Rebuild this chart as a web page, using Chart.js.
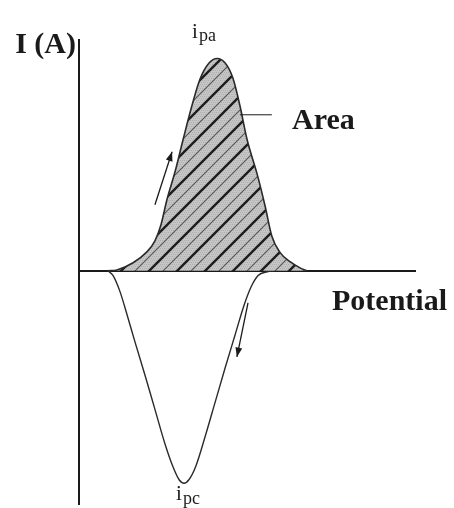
<!doctype html>
<html>
<head>
    <title>Cyclic voltammogram</title>
    <script src="https://cdn.jsdelivr.net/npm/chart.js@4.4.1/dist/chart.umd.min.js"></script>
    <style>
        html, body { margin: 0; padding: 0; background: #fff; }
        #wrap { position: relative; width: 454px; height: 508px; }
    </style>
</head>
<body>
    <div id="wrap">
        <canvas id="canvas"></canvas>
    </div>
    <script>
        // anodic sweep (oxidation peak, shaded area)
        var potentialAnodic = [0.86, 1.13, 1.61, 2.02, 2.26, 2.44, 2.62, 2.86, 3.10, 3.36, 3.60, 3.87, 4.11, 4.35, 4.58, 4.79, 5.00, 5.30, 5.54, 5.74, 5.98, 6.28, 6.58, 6.79];
        var currentAnodic = [0, 0.004, 0.035, 0.082, 0.13, 0.20, 0.31, 0.43, 0.57, 0.715, 0.83, 0.90, 0.92, 0.90, 0.835, 0.715, 0.57, 0.42, 0.28, 0.15, 0.08, 0.04, 0.013, 0];
        // cathodic sweep (reduction peak)
        var potentialCathodic = [0.86, 1.01, 1.22, 1.43, 1.67, 1.96, 2.26, 2.56, 2.80, 2.98, 3.13, 3.27, 3.48, 3.75, 4.05, 4.35, 4.64, 4.91, 5.12, 5.33, 5.60, 5.83];
        var currentCathodic = [0, -0.02, -0.09, -0.19, -0.31, -0.45, -0.60, -0.75, -0.85, -0.905, -0.92, -0.905, -0.845, -0.72, -0.57, -0.42, -0.28, -0.15, -0.07, -0.02, -0.004, 0];
        var axisLabels = ['I (A)', 'Potential'];

        function toPoints(xs, ys) {
            var pts = [];
            for (var i = 0; i < xs.length; i++) {
                pts.push({ x: xs[i], y: ys[i] });
            }
            return pts;
        }

        // grey fill with diagonal hatch lines
        function makeHatch() {
            var c = document.createElement('canvas');
            c.width = 28; c.height = 28;
            var g = c.getContext('2d');
            g.fillStyle = '#c6c6c6';
            g.fillRect(0, 0, 28, 28);
            g.fillStyle = 'rgba(90,90,90,0.22)';
            for (var y = 0; y < 28; y += 2) {
                for (var x = (y % 4 == 0 ? 0 : 1); x < 28; x += 2) {
                    g.fillRect(x, y, 1, 1);
                }
            }
            g.strokeStyle = '#1e1e1e';
            g.lineWidth = 2.4;
            g.beginPath();
            g.moveTo(-2, 30); g.lineTo(30, -2);
            g.moveTo(-16, 16); g.lineTo(16, -16);
            g.moveTo(12, 44); g.lineTo(44, 12);
            g.stroke();
            g.strokeStyle = '#555';
            g.lineWidth = 1.1;
            g.beginPath();
            g.moveTo(-2, 16); g.lineTo(16, -2);
            g.moveTo(12, 30); g.lineTo(30, 12);
            g.stroke();
            return g.createPattern(c, 'repeat');
        }

        function arrow(ctx, x1, y1, x2, y2) {
            var a = Math.atan2(y2 - y1, x2 - x1);
            ctx.beginPath();
            ctx.moveTo(x1, y1);
            ctx.lineTo(x2, y2);
            ctx.stroke();
            ctx.beginPath();
            ctx.moveTo(x2, y2);
            ctx.lineTo(x2 - 10 * Math.cos(a - 0.35), y2 - 10 * Math.sin(a - 0.35));
            ctx.lineTo(x2 - 10 * Math.cos(a + 0.35), y2 - 10 * Math.sin(a + 0.35));
            ctx.closePath();
            ctx.fill();
        }

        var notes = {
            id: 'notes',
            afterDraw: function (chart) {
                var ctx = chart.ctx;
                var xs = chart.scales.x, ys = chart.scales.y;
                var area = chart.chartArea;
                ctx.save();
                ctx.fillStyle = '#1a1a1a';
                ctx.strokeStyle = '#1a1a1a';
                ctx.textBaseline = 'alphabetic';

                ctx.font = 'bold 30px "Liberation Serif"';
                ctx.textAlign = 'right';
                ctx.fillText(axisLabels[0], area.left - 3, 53);
                ctx.textAlign = 'left';
                ctx.fillText(axisLabels[1], 332, 310);
                ctx.fillText('Area', 292, 129);

                // peak labels
                ctx.font = '21px "Liberation Serif"';
                ctx.fillText('i', 192, 38);
                ctx.fillText('i', 176, 500);
                ctx.font = '18px "Liberation Serif"';
                ctx.fillText('pa', 199, 41);
                ctx.fillText('pc', 183, 504);

                // leader line to the shaded area
                ctx.lineWidth = 1;
                ctx.beginPath();
                ctx.moveTo(xs.getPixelForValue(4.79), ys.getPixelForValue(0.676));
                ctx.lineTo(xs.getPixelForValue(5.74), ys.getPixelForValue(0.676));
                ctx.stroke();

                // sweep direction arrows
                ctx.lineWidth = 1.3;
                arrow(ctx, xs.getPixelForValue(2.26), ys.getPixelForValue(0.286), xs.getPixelForValue(2.77), ys.getPixelForValue(0.516));
                arrow(ctx, xs.getPixelForValue(5.03), ys.getPixelForValue(-0.139), xs.getPixelForValue(4.70), ys.getPixelForValue(-0.373));
                ctx.restore();
            }
        };

        var ctx = document.getElementById('canvas').getContext('2d');
        var myChart = new Chart(ctx, {
            type: 'line',
            data: {
                datasets: [{
                    label: 'Anodic',
                    data: toPoints(potentialAnodic, currentAnodic),
                    borderColor: '#2a2a2a',
                    borderWidth: 1.6,
                    backgroundColor: makeHatch(),
                    fill: 'origin',
                    pointRadius: 0,
                    cubicInterpolationMode: 'monotone'
                }, {
                    label: 'Cathodic',
                    data: toPoints(potentialCathodic, currentCathodic),
                    borderColor: '#2a2a2a',
                    borderWidth: 1.4,
                    fill: false,
                    pointRadius: 0,
                    cubicInterpolationMode: 'monotone'
                }]
            },
            options: {
                responsive: true,
                maintainAspectRatio: false,
                animation: false,
                layout: { padding: { left: 79, top: 40, right: 39, bottom: 4 } },
                plugins: {
                    legend: { display: false },
                    tooltip: { enabled: false },
                    title: { display: false }
                },
                scales: {
                    x: {
                        type: 'linear',
                        min: 0,
                        max: 10,
                        position: { y: 0 },
                        ticks: { display: false },
                        grid: { display: false, drawTicks: false },
                        border: { display: true, color: '#1a1a1a', width: 2 }
                    },
                    y: {
                        type: 'linear',
                        min: -1.01,
                        max: 1.0,
                        position: 'left',
                        ticks: { display: false },
                        grid: { display: false, drawTicks: false },
                        border: { display: true, color: '#1a1a1a', width: 2 }
                    }
                }
            },
            plugins: [notes]
        });
    </script>
</body>
</html>
